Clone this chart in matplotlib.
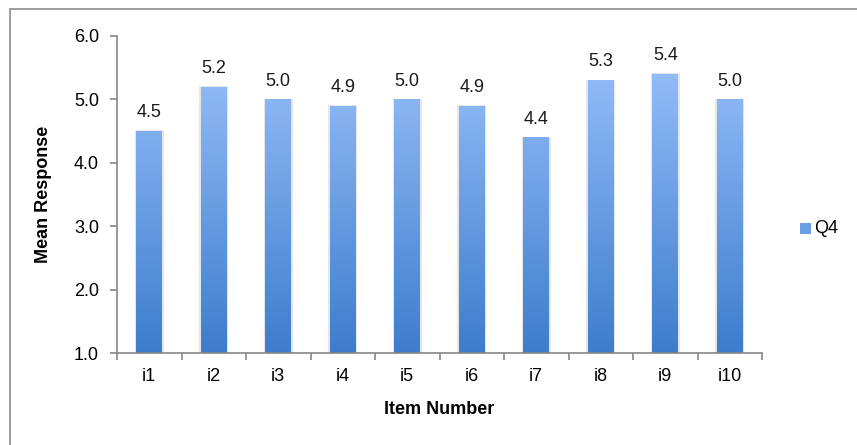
import matplotlib
matplotlib.use("Agg")
import matplotlib.pyplot as plt
import numpy as np
from matplotlib.colors import LinearSegmentedColormap
from matplotlib.patches import Rectangle

categories = ["i1", "i2", "i3", "i4", "i5", "i6", "i7", "i8", "i9", "i10"]
values = [4.5, 5.2, 5.0, 4.9, 5.0, 4.9, 4.4, 5.3, 5.4, 5.0]
series_name = "Q4"
yticks = [1.0, 2.0, 3.0, 4.0, 5.0, 6.0]

plt.rcParams['font.family'] = ['Liberation Sans', 'DejaVu Sans']
FS = 13

W, H = 857, 445
fig = plt.figure(figsize=(W/100, H/100), dpi=100)
ax = fig.add_axes([117/W, 1-353/H, (762-117)/W, (353-36)/H])

# outer border
fig.patches.append(Rectangle((10/W, -0.05), 1.0, 1 - 9/H + 0.05, transform=fig.transFigure,
                             fill=False, edgecolor='#8c8c8c', linewidth=1.2))

cmap = LinearSegmentedColormap.from_list("g", ["#3d7dcc", "#9dc4fd"])
x = np.arange(len(categories))
bars = ax.bar(x, [v - 1.0 for v in values], bottom=1.0, width=0.40, color='none', edgecolor='none')
grad = np.linspace(0, 1, 256).reshape(-1, 1)
for b, v in zip(bars, values):
    x0, w = b.get_x(), b.get_width()
    # soft shadow
    ax.add_patch(Rectangle((x0 - 0.025, 1.0), w + 0.05, v - 1.0 + 0.01, facecolor='#d6d6d6',
                           edgecolor='none', zorder=1, alpha=0.6))
    im = ax.imshow(grad, extent=(x0, x0 + w, 1.0, 6.0), origin='lower', cmap=cmap, aspect='auto',
                   zorder=2)
    im.set_clip_path(Rectangle((x0, 1.0), w, v - 1.0, transform=ax.transData))
    ax.annotate(f"{v:.1f}", (x0 + w/2, v), xytext=(0, 10), textcoords='offset points',
                ha='center', va='baseline', fontsize=FS, color='#1a1a1a')

ax.set_xlim(-0.5, len(categories) - 0.5)
ax.set_ylim(1.0, 6.0)
ax.set_yticks(yticks)
ax.set_yticklabels([f"{t:.1f}" for t in yticks], fontsize=FS)
ax.set_xticks(x)
ax.set_xticklabels(categories, fontsize=FS)
ax.set_xticks(np.arange(-0.5, len(categories), 1.0), minor=True)
ax.tick_params(axis='x', which='major', length=0, pad=11)
ax.tick_params(axis='x', which='minor', length=5, color='#868686', width=1.2)
ax.tick_params(axis='y', length=5, color='#868686', width=1.2, pad=8)
for s in ['top', 'right']:
    ax.spines[s].set_visible(False)
for s in ['left', 'bottom']:
    ax.spines[s].set_color('#868686')
    ax.spines[s].set_linewidth(1.2)

ax.set_ylabel("Mean Response", fontsize=FS, fontweight='bold', labelpad=16)
ax.set_xlabel("Item Number", fontsize=FS, fontweight='bold', labelpad=11)

# legend
lx, ly = 800/W, 1-229/H
fig.patches.append(Rectangle((lx, ly - 5.5/H), 11/W, 11/H, transform=fig.transFigure,
                             facecolor='#6a9ee6', edgecolor='none'))
fig.text(814/W, ly, series_name, fontsize=FS, va='center', ha='left')

fig.savefig("out.png", dpi=100)
